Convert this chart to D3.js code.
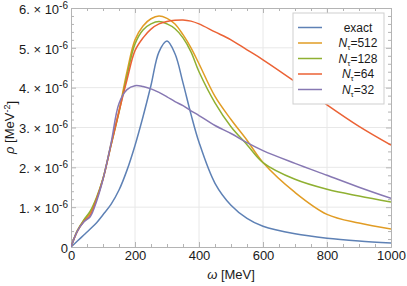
<!DOCTYPE html>
<html>
<head>
<meta charset="utf-8">
<script src="https://cdn.jsdelivr.net/npm/d3@7"></script>
<style>
  body { margin: 0; background: #fff; }
  svg { display: block; font-family: "Liberation Sans", Arial, sans-serif; }
</style>
</head>
<body>
<div id="chart"></div>
<script>
// omega grid (MeV) and spectral functions (units of 1e-6 MeV^-2)
var omega   = [0, 20, 40, 60, 80, 100, 125, 150, 175, 200, 225, 250, 275, 300, 325, 350, 375, 400, 450, 500, 550, 600, 700, 800, 900, 1000];
var exact   = [0, .15, .30, .45, .61, .81, 1.07, 1.43, 1.93, 2.55, 3.27, 4.06, 4.9, 5.17, 4.85, 4.12, 3.33, 2.63, 1.6, 1.05, .72, .52, .33, .22, .15, .10];
var nt512   = [0, .40, .66, .86, 1.22, 1.72, 2.58, 3.42, 4.4, 5.2, 5.55, 5.73, 5.8, 5.74, 5.6, 5.33, 5.0, 4.6, 3.78, 3.2, 2.68, 2.12, 1.37, .82, .6, .45];
var nt128   = [0, .42, .68, .90, 1.25, 1.72, 2.55, 3.38, 4.3, 5.1, 5.45, 5.6, 5.66, 5.6, 5.48, 5.25, 4.9, 4.4, 3.62, 3.02, 2.57, 2.12, 1.7, 1.45, 1.28, 1.13];
var nt64    = [0, .40, .64, .80, 1.2, 1.7, 2.55, 3.4, 4.2, 4.93, 5.25, 5.47, 5.6, 5.66, 5.69, 5.7, 5.67, 5.6, 5.4, 5.2, 4.95, 4.7, 4.15, 3.57, 3.03, 2.56];
var nt32    = [0, .40, .63, .76, 1.15, 1.7, 2.6, 3.6, 3.95, 4.05, 4.03, 3.97, 3.88, 3.77, 3.65, 3.55, 3.42, 3.3, 3.05, 2.85, 2.62, 2.42, 2.1, 1.8, 1.5, 1.22];

var seriesNames  = ["exact", "512", "128", "64", "32"];
var seriesColors = ["#5e81b5", "#e19c24", "#8fb032", "#eb6235", "#8778b3"];
var seriesValues = [exact, nt512, nt128, nt64, nt32];

var xTicks = [0, 200, 400, 600, 800, 1000];
var yTicks = [0, 1, 2, 3, 4, 5, 6];

var width = 407, height = 286;
var plotLeft = 71, plotRight = 391, plotTop = 8, plotBottom = 247;
var frameColor = "#b4b4b4", gridColor = "#e8e8e8", textColor = "#1a1a1a";

var svg = d3.select("#chart").append("svg")
    .attr("width", width)
    .attr("height", height);

var x = d3.scaleLinear().domain([0, 1000]).range([plotLeft, plotRight]);
var y = d3.scaleLinear().domain([0, 6]).range([plotBottom, plotTop]);

// grid
svg.append("g").selectAll("line").data(xTicks.slice(1, -1)).enter().append("line")
    .attr("x1", function (d) { return x(d); }).attr("x2", function (d) { return x(d); })
    .attr("y1", plotTop).attr("y2", plotBottom)
    .attr("stroke", gridColor).attr("stroke-width", 1);
svg.append("g").selectAll("line").data(yTicks.slice(1, -1)).enter().append("line")
    .attr("y1", function (d) { return y(d); }).attr("y2", function (d) { return y(d); })
    .attr("x1", plotLeft).attr("x2", plotRight)
    .attr("stroke", gridColor).attr("stroke-width", 1);

// minor tick values
var xMinor = d3.range(0, 1001, 50).filter(function (d) { return d % 200 !== 0; });
var yMinor = d3.range(0, 31).map(function (i) { return i / 5; }).filter(function (d) { return Math.abs(d - Math.round(d)) > 1e-6; });

function styleAxis(g) {
    g.selectAll("path,line").attr("stroke", frameColor);
    g.selectAll("text").attr("fill", textColor).style("font-size", "13px")
        .style("font-family", "'Liberation Sans', Arial, sans-serif");
}

// bottom
svg.append("g").attr("transform", "translate(0," + plotBottom + ")")
    .call(d3.axisBottom(x).tickValues(xTicks).tickSizeInner(-5).tickSizeOuter(0).tickPadding(4)
        .tickFormat(d3.format("d")))
    .call(styleAxis);
svg.append("g").attr("transform", "translate(0," + plotBottom + ")")
    .call(d3.axisBottom(x).tickValues(xMinor).tickSizeInner(-3).tickSizeOuter(0).tickFormat(""))
    .call(styleAxis);
// top
svg.append("g").attr("transform", "translate(0," + plotTop + ")")
    .call(d3.axisTop(x).tickValues(xTicks).tickSizeInner(-5).tickSizeOuter(0).tickFormat(""))
    .call(styleAxis);
svg.append("g").attr("transform", "translate(0," + plotTop + ")")
    .call(d3.axisTop(x).tickValues(xMinor).tickSizeInner(-3).tickSizeOuter(0).tickFormat(""))
    .call(styleAxis);
// left
var yAxisG = svg.append("g").attr("transform", "translate(" + plotLeft + ",0)")
    .call(d3.axisLeft(y).tickValues(yTicks).tickSizeInner(-5).tickSizeOuter(0).tickPadding(3).tickFormat(""))
    .call(styleAxis);
svg.append("g").attr("transform", "translate(" + plotLeft + ",0)")
    .call(d3.axisLeft(y).tickValues(yMinor).tickSizeInner(-3).tickSizeOuter(0).tickFormat(""))
    .call(styleAxis);
// right
svg.append("g").attr("transform", "translate(" + plotRight + ",0)")
    .call(d3.axisRight(y).tickValues(yTicks).tickSizeInner(-5).tickSizeOuter(0).tickFormat(""))
    .call(styleAxis);
svg.append("g").attr("transform", "translate(" + plotRight + ",0)")
    .call(d3.axisRight(y).tickValues(yMinor).tickSizeInner(-3).tickSizeOuter(0).tickFormat(""))
    .call(styleAxis);

// y tick labels in Mathematica style: "5. × 10^-6"
yAxisG.selectAll(".tick text").each(function (d) {
    var t = d3.select(this).text("").attr("dy", "0.4em");
    if (d === 0) { t.append("tspan").text("0"); return; }
    t.append("tspan").text(d + ". \u00d7 10");
    t.append("tspan").attr("dy", "-0.5em").style("font-size", "10px").text("-6");
});

// curves
svg.append("clipPath").attr("id", "plotclip").append("rect")
    .attr("x", plotLeft).attr("y", plotTop - 2).attr("width", plotRight - plotLeft).attr("height", plotBottom - plotTop + 2);

var line = d3.line()
    .x(function (d, i) { return x(omega[i]); })
    .y(function (d) { return y(d); })
    .curve(d3.curveCatmullRom.alpha(0.5));

svg.append("g").attr("clip-path", "url(#plotclip)")
    .selectAll("path").data(seriesValues).enter().append("path")
    .attr("d", function (d) { return line(d); })
    .attr("fill", "none")
    .attr("stroke", function (d, i) { return seriesColors[i]; })
    .attr("stroke-width", 1.5)
    .attr("stroke-linejoin", "round");

// axis labels
var xl = svg.append("text").attr("x", (plotLeft + plotRight) / 2).attr("y", 279)
    .attr("text-anchor", "middle").attr("fill", textColor).style("font-size", "13px");
xl.append("tspan").style("font-style", "italic").text("\u03c9");
xl.append("tspan").text(" [MeV]");

var yl = svg.append("text").attr("transform", "translate(14," + ((plotTop + plotBottom) / 2) + ") rotate(-90)")
    .attr("text-anchor", "middle").attr("fill", textColor).style("font-size", "13px");
yl.append("tspan").style("font-style", "italic").text("\u03c1");
yl.append("tspan").text(" [MeV");
yl.append("tspan").attr("dy", "-0.45em").style("font-size", "9px").text("-2");
yl.append("tspan").attr("dy", "0.45em").text("]");

// legend
var lg = svg.append("g");
lg.append("rect").attr("x", 293).attr("y", 13).attr("width", 91).attr("height", 91)
    .attr("fill", "#fff").attr("stroke", "#cfcfcf").attr("stroke-width", 1);
var rowY = d3.scalePoint().domain(seriesNames).range([27.5, 89.5]);
seriesNames.forEach(function (name, i) {
    var ry = rowY(name);
    lg.append("line").attr("x1", 298).attr("x2", 322).attr("y1", ry).attr("y2", ry)
        .attr("stroke", seriesColors[i]).attr("stroke-width", 1.5);
    var t = lg.append("text").attr("x", 358).attr("y", ry + 4)
        .attr("text-anchor", "middle").attr("fill", textColor).style("font-size", "12px");
    if (name === "exact") {
        t.text("exact");
    } else {
        t.append("tspan").style("font-style", "italic").text("N");
        t.append("tspan").attr("dy", 3).style("font-size", "8px").text("\u03c4");
        t.append("tspan").attr("dy", -3).text("=" + name);
    }
});
</script>
</body>
</html>
